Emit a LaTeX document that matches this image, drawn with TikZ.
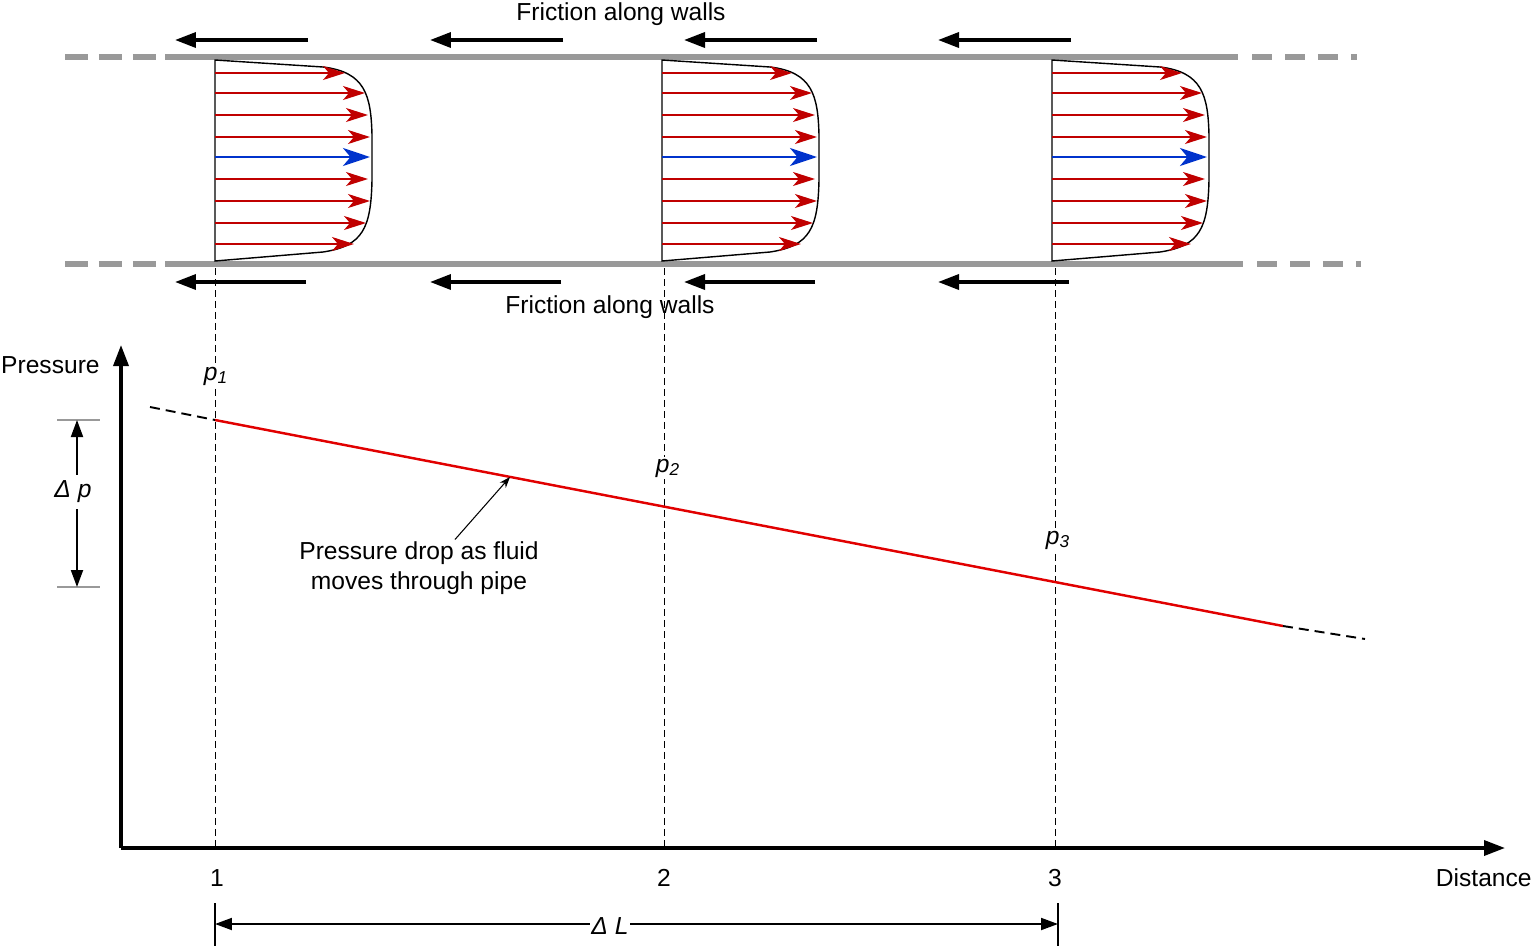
\documentclass[tikz,border=0pt]{standalone}
\usepackage{fontspec}
\setmainfont{Liberation Sans}
\usetikzlibrary{arrows.meta}
\definecolor{pipegray}{RGB}{153,153,153}
\definecolor{velred}{RGB}{192,0,0}
\definecolor{velblue}{RGB}{0,51,204}
\definecolor{dropred}{RGB}{225,0,0}
\tikzset{
  wall/.style={line width=3.4pt, pipegray},
  friction/.style={line width=2pt, -{Triangle[length=0.42cm,width=0.3cm]}},
  profile/.style={line width=0.8pt},
  vel/.style={velred, line width=0.9pt, -{Stealth[length=0.44cm,width=0.28cm,inset=0.12cm]}},
  cvel/.style={velblue, line width=1.7pt, -{Stealth[length=0.54cm,width=0.36cm,inset=0.15cm]}},
  guide/.style={line width=0.55pt, dash pattern=on 0.14cm off 0.08cm},
  axis/.style={line width=2pt, -{Triangle[length=0.42cm,width=0.3cm]}},
  dim/.style={line width=1.1pt, -{Triangle[length=0.34cm,width=0.24cm]}},
  plab/.style={fill=white, inner sep=1pt},
}
\begin{document}
\begin{tikzpicture}[x=0.02cm, y=-0.02cm, font=\fontsize{14}{17}\selectfont]
  \useasboundingbox (0,0) rectangle (1536,947);

  % 管壁
  \draw[wall] (165,57) -- (1238,57);
  \draw[wall] (165,264) -- (1243,264);
  \draw[wall, dash pattern=on 0.46cm off 0.22cm] (65,57) -- (158,57);
  \draw[wall, dash pattern=on 0.46cm off 0.22cm] (65,264) -- (158,264);
  \draw[wall, dash pattern=on 0.4cm off 0.26cm] (1252,57) -- (1357,57);
  \draw[wall, dash pattern=on 0.4cm off 0.26cm] (1257,264) -- (1361,264);

  % 壁面摩擦
  \node (ftop) at (621,14) {Friction along walls};
  \node (fbot) at (610,307) {Friction along walls};
  \foreach \x in {175,430,684,938} {
    \draw[friction] (\x+133,40) -- (\x,40);
    \draw[friction] (\x+131,282) -- (\x,282);
  }

  % 速度分布
  \foreach \x in {215,662,1052} {
    \begin{scope}[shift={(\x,0)}]
      \draw[profile] (0,60) -- (108,67) .. controls (150,72) and (156,95) .. (157,135)
        -- (157,180) .. controls (156,228) and (148,246) .. (108,252) -- (0,261) -- cycle;
      \foreach \y/\t in {73/130,93/150,115/153,137/155,179/153,201/155,223/151,244/139}
        \draw[vel] (0,\y) -- (\t,\y);
      \draw[cvel] (0,157) -- (155,157);
    \end{scope}
  }

  % 截面虚线
  \draw[guide] (215,268) -- (215,848);
  \draw[guide] (664,268) -- (664,848);
  \draw[guide] (1055,268) -- (1055,848);

  % 坐标轴
  \coordinate (O) at (121,848);
  \coordinate (ytop) at (121,345);
  \coordinate (xend) at (1505,848);
  \draw[axis] (O) -- (ytop);
  \draw[axis] (O) -- (xend);
  \node[anchor=east, inner sep=0] (ylab) at (100,365) {Pressure};
  \node[anchor=east, inner sep=0] (xlab) at (1532,878) {Distance};
  \node (t1) at (217,878) {1};
  \node (t2) at (664,878) {2};
  \node (t3) at (1055,878) {3};

  % 压力线
  \coordinate (a0) at (150,407);
  \coordinate (a1) at (215,420);
  \coordinate (a2) at (1283,626);
  \coordinate (a3) at (1365,639);
  \draw[dropred, line width=1.4pt] (a1) -- (a2);
  \draw[line width=1.1pt, dash pattern=on 0.2cm off 0.12cm] (a0) -- (a1);
  \draw[line width=1.1pt, dash pattern=on 0.2cm off 0.12cm] (a2) -- (a3);
  \node[plab] (p1) at (216,376) {\textit{p\textsubscript{1}}};
  \node[plab] (p2) at (668,468) {\textit{p\textsubscript{2}}};
  \node[plab] (p3) at (1058,540) {\textit{p\textsubscript{3}}};

  \node[align=center, inner sep=1pt] (drop) at (419,568) {Pressure drop as fluid\\moves through pipe};
  \coordinate (dropTip) at (510,477);
  \draw[line width=0.6pt, -{Stealth[length=0.22cm,width=0.16cm]}] ([xshift=0.72cm]drop.north) -- (dropTip);

  % Δp
  \draw[pipegray, line width=0.6pt] (57,420) -- (100,420);
  \draw[pipegray, line width=0.6pt] (57,587) -- (100,587);
  \coordinate (dpTop) at (77,420);
  \coordinate (dpBot) at (77,587);
  \node (dp) at (73,492) {\textit{Δ p}};
  \draw[dim] (dp.north -| dpTop) -- (dpTop);
  \draw[dim] (dp.south -| dpBot) -- (dpBot);

  % ΔL
  \coordinate (L1) at (215,924);
  \coordinate (L2) at (1058,924);
  \draw[line width=0.6pt] (215,903) -- (215,946);
  \draw[line width=0.6pt] (1058,903) -- (1058,946);
  \draw[dim, {Triangle[length=0.34cm,width=0.24cm]}-{Triangle[length=0.34cm,width=0.24cm]}] (L1) -- (L2);
  \node[plab] (dL) at (610,926) {\textit{Δ L}};
\end{tikzpicture}
\end{document}
